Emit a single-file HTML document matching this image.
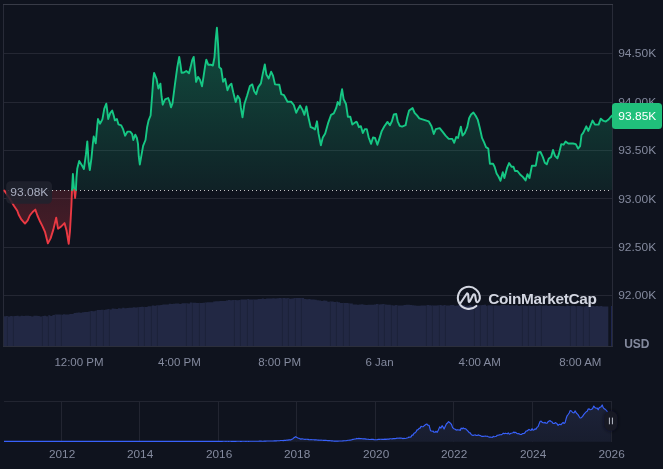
<!DOCTYPE html>
<html lang="en"><head><meta charset="utf-8"><title>Chart</title>
<style>
html,body{margin:0;padding:0;background:#0f131e;}
body{width:663px;height:469px;overflow:hidden;position:relative;font-family:"Liberation Sans",sans-serif;}
svg{position:absolute;left:0;top:0;display:block;will-change:transform}
text{font-family:"Liberation Sans",sans-serif;}
</style></head><body>
<svg width="663" height="469" viewBox="0 0 663 469">
<defs>
<linearGradient id="gg" gradientUnits="userSpaceOnUse" x1="0" y1="4" x2="0" y2="190.0">
<stop offset="0" stop-color="#16c784" stop-opacity="0.36"/><stop offset="1" stop-color="#16c784" stop-opacity="0.08"/></linearGradient>
<linearGradient id="rg" gradientUnits="userSpaceOnUse" x1="0" y1="190.0" x2="0" y2="250">
<stop offset="0" stop-color="#ea3943" stop-opacity="0.18"/><stop offset="1" stop-color="#ea3943" stop-opacity="0.28"/></linearGradient>
<linearGradient id="mg" gradientUnits="userSpaceOnUse" x1="0" y1="402" x2="0" y2="442">
<stop offset="0" stop-color="#1d233a"/><stop offset="1" stop-color="#181d2e"/></linearGradient>
<filter id="bl" x="-50%" y="-50%" width="200%" height="200%"><feGaussianBlur stdDeviation="1.6"/></filter>
</defs>
<rect width="663" height="469" fill="#0f131e"/>

<g stroke="#242733" stroke-width="1" shape-rendering="crispEdges">
<line x1="4" x2="612" y1="53.5" y2="53.5"/>
<line x1="4" x2="612" y1="102.5" y2="102.5"/>
<line x1="4" x2="612" y1="150.5" y2="150.5"/>
<line x1="4" x2="612" y1="198.5" y2="198.5"/>
<line x1="4" x2="612" y1="247.5" y2="247.5"/>
<line x1="4" x2="612" y1="295.5" y2="295.5"/>
</g>
<g shape-rendering="crispEdges" fill="none" stroke-width="1"><path d="M3.5 346.5 V4.5 M612.5 4.5 V346.5" stroke="#282b38"/><path d="M3 346.5 H613" stroke="#2c2f3c"/><path d="M3 4.5 H613" stroke="#383b47"/></g>
<path d="M3.8 346.0 L3.8 316.2 L5.9 316.2 L5.9 316.0 L8.0 316.0 L8.0 316.5 L10.1 316.5 L10.1 315.9 L12.3 315.9 L12.3 316.3 L14.4 316.3 L14.4 316.1 L16.5 316.1 L16.5 315.8 L18.6 315.8 L18.6 316.2 L20.7 316.2 L20.7 315.8 L22.8 315.8 L22.8 316.1 L25.0 316.1 L25.0 315.8 L27.1 315.8 L27.1 315.8 L29.2 315.8 L29.2 316.0 L31.3 316.0 L31.3 316.4 L33.4 316.4 L33.4 315.7 L35.5 315.7 L35.5 315.8 L37.6 315.8 L37.6 316.1 L39.8 316.1 L39.8 316.4 L41.9 316.4 L41.9 316.0 L44.0 316.0 L44.0 315.7 L46.1 315.7 L46.1 316.2 L48.2 316.2 L48.2 315.3 L50.3 315.3 L50.3 315.9 L52.4 315.9 L52.4 315.1 L54.6 315.1 L54.6 314.6 L56.7 314.6 L56.7 314.4 L58.8 314.4 L58.8 314.5 L60.9 314.5 L60.9 314.8 L63.0 314.8 L63.0 314.2 L65.1 314.2 L65.1 314.4 L67.3 314.4 L67.3 314.4 L69.4 314.4 L69.4 314.0 L71.5 314.0 L71.5 313.9 L73.6 313.9 L73.6 313.1 L75.7 313.1 L75.7 312.8 L77.8 312.8 L77.8 312.6 L79.9 312.6 L79.9 312.8 L82.1 312.8 L82.1 312.3 L84.2 312.3 L84.2 311.9 L86.3 311.9 L86.3 311.9 L88.4 311.9 L88.4 311.5 L90.5 311.5 L90.5 311.1 L92.6 311.1 L92.6 311.2 L94.7 311.2 L94.7 310.7 L96.9 310.7 L96.9 310.1 L99.0 310.1 L99.0 310.1 L101.1 310.1 L101.1 309.8 L103.2 309.8 L103.2 309.9 L105.3 309.9 L105.3 309.6 L107.4 309.6 L107.4 309.1 L109.5 309.1 L109.5 309.5 L111.7 309.5 L111.7 308.6 L113.8 308.6 L113.8 308.7 L115.9 308.7 L115.9 308.9 L118.0 308.9 L118.0 308.2 L120.1 308.2 L120.1 308.4 L122.2 308.4 L122.2 307.8 L124.4 307.8 L124.4 308.2 L126.5 308.2 L126.5 308.1 L128.6 308.1 L128.6 307.7 L130.7 307.7 L130.7 307.8 L132.8 307.8 L132.8 307.2 L134.9 307.2 L134.9 307.4 L137.0 307.4 L137.0 307.2 L139.2 307.2 L139.2 307.1 L141.3 307.1 L141.3 306.8 L143.4 306.8 L143.4 307.0 L145.5 307.0 L145.5 306.9 L147.6 306.9 L147.6 306.3 L149.7 306.3 L149.7 306.2 L151.8 306.2 L151.8 305.4 L154.0 305.4 L154.0 305.7 L156.1 305.7 L156.1 305.3 L158.2 305.3 L158.2 305.3 L160.3 305.3 L160.3 305.0 L162.4 305.0 L162.4 304.4 L164.5 304.4 L164.5 304.4 L166.7 304.4 L166.7 304.5 L168.8 304.5 L168.8 303.8 L170.9 303.8 L170.9 304.1 L173.0 304.1 L173.0 303.7 L175.1 303.7 L175.1 303.5 L177.2 303.5 L177.2 303.4 L179.3 303.4 L179.3 303.9 L181.5 303.9 L181.5 303.2 L183.6 303.2 L183.6 303.2 L185.7 303.2 L185.7 303.2 L187.8 303.2 L187.8 303.5 L189.9 303.5 L189.9 302.6 L192.0 302.6 L192.0 302.8 L194.2 302.8 L194.2 302.7 L196.3 302.7 L196.3 303.0 L198.4 303.0 L198.4 303.0 L200.5 303.0 L200.5 303.1 L202.6 303.1 L202.6 302.7 L204.7 302.7 L204.7 302.6 L206.8 302.6 L206.8 302.2 L209.0 302.2 L209.0 302.3 L211.1 302.3 L211.1 302.3 L213.2 302.3 L213.2 301.4 L215.3 301.4 L215.3 301.3 L217.4 301.3 L217.4 301.2 L219.5 301.2 L219.5 301.1 L221.6 301.1 L221.6 301.1 L223.8 301.1 L223.8 301.0 L225.9 301.0 L225.9 300.6 L228.0 300.6 L228.0 300.1 L230.1 300.1 L230.1 300.3 L232.2 300.3 L232.2 300.1 L234.3 300.1 L234.3 300.1 L236.5 300.1 L236.5 300.3 L238.6 300.3 L238.6 299.9 L240.7 299.9 L240.7 299.6 L242.8 299.6 L242.8 299.5 L244.9 299.5 L244.9 299.5 L247.0 299.5 L247.0 298.9 L249.1 298.9 L249.1 299.6 L251.3 299.6 L251.3 299.4 L253.4 299.4 L253.4 299.5 L255.5 299.5 L255.5 299.4 L257.6 299.4 L257.6 298.9 L259.7 298.9 L259.7 298.9 L261.8 298.9 L261.8 298.6 L263.9 298.6 L263.9 299.0 L266.1 299.0 L266.1 298.4 L268.2 298.4 L268.2 298.4 L270.3 298.4 L270.3 298.4 L272.4 298.4 L272.4 298.3 L274.5 298.3 L274.5 298.4 L276.6 298.4 L276.6 298.2 L278.8 298.2 L278.8 298.1 L280.9 298.1 L280.9 298.2 L283.0 298.2 L283.0 298.1 L285.1 298.1 L285.1 298.3 L287.2 298.3 L287.2 298.0 L289.3 298.0 L289.3 298.7 L291.4 298.7 L291.4 298.4 L293.6 298.4 L293.6 298.0 L295.7 298.0 L295.7 298.0 L297.8 298.0 L297.8 298.1 L299.9 298.1 L299.9 298.1 L302.0 298.1 L302.0 298.1 L304.1 298.1 L304.1 298.9 L306.2 298.9 L306.2 299.3 L308.4 299.3 L308.4 299.1 L310.5 299.1 L310.5 299.5 L312.6 299.5 L312.6 299.4 L314.7 299.4 L314.7 299.7 L316.8 299.7 L316.8 300.2 L318.9 300.2 L318.9 300.4 L321.1 300.4 L321.1 301.1 L323.2 301.1 L323.2 300.6 L325.3 300.6 L325.3 300.7 L327.4 300.7 L327.4 301.7 L329.5 301.7 L329.5 301.5 L331.6 301.5 L331.6 301.4 L333.7 301.4 L333.7 301.9 L335.9 301.9 L335.9 301.7 L338.0 301.7 L338.0 302.3 L340.1 302.3 L340.1 302.9 L342.2 302.9 L342.2 303.1 L344.3 303.1 L344.3 303.1 L346.4 303.1 L346.4 303.0 L348.5 303.0 L348.5 303.4 L350.7 303.4 L350.7 303.5 L352.8 303.5 L352.8 304.4 L354.9 304.4 L354.9 304.6 L357.0 304.6 L357.0 304.8 L359.1 304.8 L359.1 304.4 L361.2 304.4 L361.2 304.3 L363.4 304.3 L363.4 304.8 L365.5 304.8 L365.5 305.0 L367.6 305.0 L367.6 304.8 L369.7 304.8 L369.7 304.8 L371.8 304.8 L371.8 304.7 L373.9 304.7 L373.9 304.6 L376.0 304.6 L376.0 304.1 L378.2 304.1 L378.2 304.4 L380.3 304.4 L380.3 304.2 L382.4 304.2 L382.4 304.1 L384.5 304.1 L384.5 304.5 L386.6 304.5 L386.6 304.8 L388.7 304.8 L388.7 304.8 L390.8 304.8 L390.8 305.2 L393.0 305.2 L393.0 305.4 L395.1 305.4 L395.1 305.0 L397.2 305.0 L397.2 305.4 L399.3 305.4 L399.3 305.4 L401.4 305.4 L401.4 305.4 L403.5 305.4 L403.5 304.9 L405.7 304.9 L405.7 304.7 L407.8 304.7 L407.8 304.8 L409.9 304.8 L409.9 305.0 L412.0 305.0 L412.0 305.3 L414.1 305.3 L414.1 305.6 L416.2 305.6 L416.2 305.8 L418.3 305.8 L418.3 305.7 L420.5 305.7 L420.5 305.4 L422.6 305.4 L422.6 305.5 L424.7 305.5 L424.7 305.6 L426.8 305.6 L426.8 304.9 L428.9 304.9 L428.9 305.3 L431.0 305.3 L431.0 305.6 L433.1 305.6 L433.1 305.5 L435.3 305.5 L435.3 305.4 L437.4 305.4 L437.4 305.2 L439.5 305.2 L439.5 304.9 L441.6 304.9 L441.6 305.5 L443.7 305.5 L443.7 305.0 L445.8 305.0 L445.8 305.5 L448.0 305.5 L448.0 305.6 L450.1 305.6 L450.1 305.1 L452.2 305.1 L452.2 305.1 L454.3 305.1 L454.3 305.7 L456.4 305.7 L456.4 305.5 L458.5 305.5 L458.5 305.0 L460.6 305.0 L460.6 305.0 L462.8 305.0 L462.8 305.0 L464.9 305.0 L464.9 305.7 L467.0 305.7 L467.0 305.7 L469.1 305.7 L469.1 305.1 L471.2 305.1 L471.2 305.7 L473.3 305.7 L473.3 305.8 L475.4 305.8 L475.4 305.5 L477.6 305.5 L477.6 305.2 L479.7 305.2 L479.7 305.3 L481.8 305.3 L481.8 304.9 L483.9 304.9 L483.9 304.8 L486.0 304.8 L486.0 305.7 L488.1 305.7 L488.1 305.3 L490.3 305.3 L490.3 305.2 L492.4 305.2 L492.4 305.6 L494.5 305.6 L494.5 305.2 L496.6 305.2 L496.6 305.6 L498.7 305.6 L498.7 305.6 L500.8 305.6 L500.8 305.1 L502.9 305.1 L502.9 305.1 L505.1 305.1 L505.1 305.2 L507.2 305.2 L507.2 305.1 L509.3 305.1 L509.3 305.5 L511.4 305.5 L511.4 305.2 L513.5 305.2 L513.5 305.4 L515.6 305.4 L515.6 305.1 L517.7 305.1 L517.7 305.9 L519.9 305.9 L519.9 305.4 L522.0 305.4 L522.0 305.5 L524.1 305.5 L524.1 305.6 L526.2 305.6 L526.2 305.9 L528.3 305.9 L528.3 305.5 L530.4 305.5 L530.4 306.0 L532.6 306.0 L532.6 305.6 L534.7 305.6 L534.7 305.7 L536.8 305.7 L536.8 305.7 L538.9 305.7 L538.9 305.3 L541.0 305.3 L541.0 305.7 L543.1 305.7 L543.1 305.5 L545.2 305.5 L545.2 305.3 L547.4 305.3 L547.4 306.1 L549.5 306.1 L549.5 305.5 L551.6 305.5 L551.6 305.8 L553.7 305.8 L553.7 306.1 L555.8 306.1 L555.8 305.9 L557.9 305.9 L557.9 305.7 L560.0 305.7 L560.0 305.9 L562.2 305.9 L562.2 306.0 L564.3 306.0 L564.3 306.2 L566.4 306.2 L566.4 305.6 L568.5 305.6 L568.5 306.0 L570.6 306.0 L570.6 305.8 L572.7 305.8 L572.7 305.8 L574.9 305.8 L574.9 306.3 L577.0 306.3 L577.0 306.0 L579.1 306.0 L579.1 306.1 L581.2 306.1 L581.2 306.3 L583.3 306.3 L583.3 306.4 L585.4 306.4 L585.4 306.0 L587.5 306.0 L587.5 306.2 L589.7 306.2 L589.7 306.1 L591.8 306.1 L591.8 306.1 L593.9 306.1 L593.9 306.3 L596.0 306.3 L596.0 306.1 L598.1 306.1 L598.1 306.2 L600.2 306.2 L600.2 306.1 L602.3 306.1 L602.3 306.6 L604.5 306.6 L604.5 306.4 L606.6 306.4 L606.6 306.5 L608.3 306.5 L608.3 346.0 Z" fill="#222844"/>
<rect x="611" y="306.4" width="1" height="39.6" fill="#1e2650" shape-rendering="crispEdges"/>
<path d="M7.4 316.4 V346.0 M13.4 316.3 V346.0 M42.4 315.9 V346.0 M48.4 315.7 V346.0 M55.4 314.9 V346.0 M61.4 314.6 V346.0 M90.4 311.4 V346.0 M96.4 310.5 V346.0 M103.4 309.7 V346.0 M109.4 309.2 V346.0 M138.4 307.1 V346.0 M144.4 306.7 V346.0 M151.4 306.0 V346.0 M157.4 305.2 V346.0 M186.4 303.3 V346.0 M192.4 302.9 V346.0 M199.4 302.7 V346.0 M205.4 302.7 V346.0 M234.4 300.1 V346.0 M240.4 299.7 V346.0 M247.4 299.3 V346.0 M253.4 299.2 V346.0 M282.4 298.5 V346.0 M288.4 298.4 V346.0 M295.4 298.3 V346.0 M301.4 298.3 V346.0 M330.4 301.4 V346.0 M336.4 302.0 V346.0 M343.4 302.7 V346.0 M349.4 303.5 V346.0 M378.4 304.4 V346.0 M384.4 304.7 V346.0 M391.4 305.0 V346.0 M397.4 305.0 V346.0 M426.4 305.3 V346.0 M432.4 305.2 V346.0 M439.4 305.2 V346.0 M445.4 305.2 V346.0 M474.4 305.4 V346.0 M480.4 305.3 V346.0 M487.4 305.2 V346.0 M493.4 305.2 V346.0 M522.4 305.5 V346.0 M528.4 305.6 V346.0 M535.4 305.7 V346.0 M541.4 305.7 V346.0 M570.4 306.0 V346.0 M576.4 306.0 V346.0 M583.4 306.1 V346.0 M589.4 306.1 V346.0" stroke="#1b2036" stroke-width="0.7" fill="none"/>
<path d="M4.3 190.6 L6.0 193.0 L9.5 198.2 L13.9 205.8 L17.3 210.7 L18.7 214.8 L21.5 219.7 L25.0 223.6 L27.7 220.4 L29.8 215.5 L32.6 212.0 L35.3 209.6 L37.4 215.5 L40.2 221.8 L42.3 225.9 L45.1 232.2 L47.9 243.4 L50.6 238.4 L53.4 229.4 L56.2 217.6 L58.0 228.7 L61.0 226.6 L64.5 223.1 L66.6 230.8 L68.7 243.9 L70.0 230.8 L71.4 205.8 L72.0 190.0 L72.0 190.0 L4.3 190.0 Z" fill="url(#rg)"/>
<path d="M74.2 190.0 L75.1 198.0 L75.9 190.0 L75.9 190.0 L74.2 190.0 Z" fill="url(#rg)"/>
<path d="M72.0 190.0 L72.9 174.0 L74.2 190.0 L74.2 190.0 L72.0 190.0 Z" fill="url(#gg)"/>
<path d="M75.9 190.0 L76.5 177.3 L77.3 168.4 L79.2 161.0 L82.0 165.5 L83.9 169.0 L85.9 154.7 L87.3 141.4 L88.6 162.5 L89.8 170.0 L91.4 158.6 L92.9 143.0 L93.7 136.5 L95.7 143.3 L97.3 125.3 L98.0 119.0 L100.0 123.7 L102.4 119.4 L104.3 108.6 L106.3 103.7 L107.1 109.6 L108.2 119.0 L110.2 113.1 L112.2 110.6 L113.7 115.5 L114.9 120.4 L116.9 119.0 L118.4 124.3 L121.2 125.3 L123.1 129.2 L125.1 135.7 L127.5 131.6 L130.2 131.6 L132.2 134.1 L133.3 140.0 L135.3 134.7 L136.9 138.0 L138.0 143.9 L138.8 156.7 L139.8 164.5 L141.2 156.7 L143.1 145.9 L145.5 140.0 L147.1 127.3 L148.6 120.4 L150.6 115.5 L151.4 105.0 L152.2 94.5 L153.3 78.8 L154.1 72.9 L156.5 78.8 L158.4 88.6 L160.4 83.7 L161.6 96.5 L162.7 104.7 L165.1 99.4 L168.2 98.0 L169.8 102.4 L171.0 107.3 L172.5 103.3 L174.9 84.7 L177.3 67.1 L179.2 56.9 L180.4 64.1 L181.6 72.9 L183.9 72.5 L186.3 71.0 L189.0 73.3 L190.6 67.1 L192.2 60.2 L193.7 56.9 L194.9 69.0 L196.1 81.8 L198.0 76.9 L200.0 79.8 L202.0 86.3 L203.5 76.9 L205.1 66.1 L206.3 59.6 L208.2 64.7 L210.6 64.7 L212.9 65.5 L214.5 57.3 L215.7 39.6 L216.9 27.8 L218.0 43.5 L219.2 67.1 L221.2 69.0 L223.1 81.8 L225.1 78.8 L227.5 90.2 L229.4 85.7 L231.4 83.7 L233.3 92.5 L235.7 102.0 L237.7 95.8 L239.7 99.1 L240.9 107.9 L242.5 117.4 L244.4 104.0 L247.2 95.2 L249.9 86.0 L252.3 84.4 L254.2 91.3 L256.2 94.2 L258.1 87.4 L260.9 83.4 L262.8 73.6 L264.8 64.4 L266.4 74.6 L268.7 78.5 L271.1 71.7 L273.0 75.6 L275.0 84.4 L279.3 84.8 L281.3 94.2 L284.0 95.2 L287.5 101.7 L291.1 101.7 L293.8 105.0 L296.2 112.8 L298.1 108.9 L300.1 105.6 L302.5 109.9 L304.4 114.8 L306.4 106.4 L308.3 116.8 L310.7 127.2 L313.0 128.0 L315.0 129.5 L317.0 121.3 L318.5 133.4 L320.9 145.2 L322.8 137.4 L325.2 133.4 L328.3 122.6 L331.1 114.8 L333.8 113.4 L336.2 107.9 L337.7 102.0 L339.7 105.0 L340.9 95.2 L342.1 89.3 L343.6 99.1 L346.0 104.0 L347.9 116.8 L350.3 116.8 L352.3 124.6 L356.2 121.7 L357.0 122.3 L358.9 127.2 L360.9 126.2 L362.8 133.0 L364.8 129.1 L366.8 129.1 L368.7 137.5 L371.1 143.8 L373.0 137.5 L375.0 137.9 L377.4 144.8 L379.3 138.9 L381.7 131.1 L384.4 126.2 L387.5 121.9 L389.9 125.2 L391.9 121.3 L393.8 114.4 L396.2 114.0 L397.7 121.3 L399.7 125.8 L402.1 126.6 L405.6 125.2 L407.2 117.4 L409.1 110.5 L412.6 108.1 L414.6 112.8 L417.0 115.4 L419.3 118.3 L422.5 119.3 L425.6 120.3 L428.7 121.3 L431.5 126.2 L433.8 134.0 L435.8 129.1 L439.7 128.1 L442.5 131.7 L445.6 135.6 L448.7 138.9 L452.3 138.9 L454.2 142.8 L456.2 137.0 L458.1 137.9 L459.7 131.1 L460.9 126.6 L462.5 135.6 L464.8 133.0 L467.2 127.2 L469.1 118.3 L471.1 114.4 L473.4 112.5 L475.8 116.0 L477.7 119.6 L479.7 127.5 L482.1 138.2 L484.0 142.2 L486.0 147.1 L488.3 148.6 L489.9 163.7 L493.0 163.7 L494.6 166.7 L496.6 173.5 L498.5 176.5 L500.5 180.8 L502.8 172.2 L504.4 178.0 L507.2 167.6 L509.1 163.1 L511.5 166.7 L513.4 166.7 L515.0 171.0 L517.4 171.0 L520.1 174.5 L522.8 176.9 L525.6 180.4 L527.5 174.1 L529.5 178.0 L531.9 165.7 L535.8 165.7 L538.1 152.5 L540.5 152.0 L542.8 156.9 L544.8 162.7 L546.8 164.3 L548.7 158.8 L551.1 156.9 L553.0 150.0 L555.0 155.9 L557.4 158.4 L558.9 153.9 L561.3 144.1 L563.6 144.7 L565.6 141.6 L568.3 143.5 L573.0 143.5 L575.8 144.1 L578.1 148.6 L580.1 146.1 L581.5 135.0 L583.2 132.8 L586.3 126.3 L588.3 130.9 L590.5 125.5 L592.5 120.6 L594.9 124.6 L598.6 124.6 L600.8 118.7 L603.5 120.9 L605.8 121.5 L608.2 119.8 L610.2 117.5 L612.2 115.5 L612.2 190.0 L75.9 190.0 Z" fill="url(#gg)"/>
<line x1="4" x2="612" y1="190.5" y2="190.5" stroke="#c2c2c2" stroke-width="1" stroke-dasharray="1 3" shape-rendering="crispEdges"/>
<path d="M4.3 190.6 L6.0 193.0 L9.5 198.2 L13.9 205.8 L17.3 210.7 L18.7 214.8 L21.5 219.7 L25.0 223.6 L27.7 220.4 L29.8 215.5 L32.6 212.0 L35.3 209.6 L37.4 215.5 L40.2 221.8 L42.3 225.9 L45.1 232.2 L47.9 243.4 L50.6 238.4 L53.4 229.4 L56.2 217.6 L58.0 228.7 L61.0 226.6 L64.5 223.1 L66.6 230.8 L68.7 243.9 L70.0 230.8 L71.4 205.8 L72.0 190.0" stroke="#ea3943" fill="none" stroke-width="1.9" stroke-linejoin="round" stroke-linecap="round"/>
<path d="M72.0 190.0 L72.9 174.0 L74.2 190.0" stroke="#16c784" fill="none" stroke-width="1.9" stroke-linejoin="round" stroke-linecap="round"/>
<path d="M74.2 190.0 L75.1 198.0 L75.9 190.0" stroke="#ea3943" fill="none" stroke-width="1.9" stroke-linejoin="round" stroke-linecap="round"/>
<path d="M75.9 190.0 L76.5 177.3 L77.3 168.4 L79.2 161.0 L82.0 165.5 L83.9 169.0 L85.9 154.7 L87.3 141.4 L88.6 162.5 L89.8 170.0 L91.4 158.6 L92.9 143.0 L93.7 136.5 L95.7 143.3 L97.3 125.3 L98.0 119.0 L100.0 123.7 L102.4 119.4 L104.3 108.6 L106.3 103.7 L107.1 109.6 L108.2 119.0 L110.2 113.1 L112.2 110.6 L113.7 115.5 L114.9 120.4 L116.9 119.0 L118.4 124.3 L121.2 125.3 L123.1 129.2 L125.1 135.7 L127.5 131.6 L130.2 131.6 L132.2 134.1 L133.3 140.0 L135.3 134.7 L136.9 138.0 L138.0 143.9 L138.8 156.7 L139.8 164.5 L141.2 156.7 L143.1 145.9 L145.5 140.0 L147.1 127.3 L148.6 120.4 L150.6 115.5 L151.4 105.0 L152.2 94.5 L153.3 78.8 L154.1 72.9 L156.5 78.8 L158.4 88.6 L160.4 83.7 L161.6 96.5 L162.7 104.7 L165.1 99.4 L168.2 98.0 L169.8 102.4 L171.0 107.3 L172.5 103.3 L174.9 84.7 L177.3 67.1 L179.2 56.9 L180.4 64.1 L181.6 72.9 L183.9 72.5 L186.3 71.0 L189.0 73.3 L190.6 67.1 L192.2 60.2 L193.7 56.9 L194.9 69.0 L196.1 81.8 L198.0 76.9 L200.0 79.8 L202.0 86.3 L203.5 76.9 L205.1 66.1 L206.3 59.6 L208.2 64.7 L210.6 64.7 L212.9 65.5 L214.5 57.3 L215.7 39.6 L216.9 27.8 L218.0 43.5 L219.2 67.1 L221.2 69.0 L223.1 81.8 L225.1 78.8 L227.5 90.2 L229.4 85.7 L231.4 83.7 L233.3 92.5 L235.7 102.0 L237.7 95.8 L239.7 99.1 L240.9 107.9 L242.5 117.4 L244.4 104.0 L247.2 95.2 L249.9 86.0 L252.3 84.4 L254.2 91.3 L256.2 94.2 L258.1 87.4 L260.9 83.4 L262.8 73.6 L264.8 64.4 L266.4 74.6 L268.7 78.5 L271.1 71.7 L273.0 75.6 L275.0 84.4 L279.3 84.8 L281.3 94.2 L284.0 95.2 L287.5 101.7 L291.1 101.7 L293.8 105.0 L296.2 112.8 L298.1 108.9 L300.1 105.6 L302.5 109.9 L304.4 114.8 L306.4 106.4 L308.3 116.8 L310.7 127.2 L313.0 128.0 L315.0 129.5 L317.0 121.3 L318.5 133.4 L320.9 145.2 L322.8 137.4 L325.2 133.4 L328.3 122.6 L331.1 114.8 L333.8 113.4 L336.2 107.9 L337.7 102.0 L339.7 105.0 L340.9 95.2 L342.1 89.3 L343.6 99.1 L346.0 104.0 L347.9 116.8 L350.3 116.8 L352.3 124.6 L356.2 121.7 L357.0 122.3 L358.9 127.2 L360.9 126.2 L362.8 133.0 L364.8 129.1 L366.8 129.1 L368.7 137.5 L371.1 143.8 L373.0 137.5 L375.0 137.9 L377.4 144.8 L379.3 138.9 L381.7 131.1 L384.4 126.2 L387.5 121.9 L389.9 125.2 L391.9 121.3 L393.8 114.4 L396.2 114.0 L397.7 121.3 L399.7 125.8 L402.1 126.6 L405.6 125.2 L407.2 117.4 L409.1 110.5 L412.6 108.1 L414.6 112.8 L417.0 115.4 L419.3 118.3 L422.5 119.3 L425.6 120.3 L428.7 121.3 L431.5 126.2 L433.8 134.0 L435.8 129.1 L439.7 128.1 L442.5 131.7 L445.6 135.6 L448.7 138.9 L452.3 138.9 L454.2 142.8 L456.2 137.0 L458.1 137.9 L459.7 131.1 L460.9 126.6 L462.5 135.6 L464.8 133.0 L467.2 127.2 L469.1 118.3 L471.1 114.4 L473.4 112.5 L475.8 116.0 L477.7 119.6 L479.7 127.5 L482.1 138.2 L484.0 142.2 L486.0 147.1 L488.3 148.6 L489.9 163.7 L493.0 163.7 L494.6 166.7 L496.6 173.5 L498.5 176.5 L500.5 180.8 L502.8 172.2 L504.4 178.0 L507.2 167.6 L509.1 163.1 L511.5 166.7 L513.4 166.7 L515.0 171.0 L517.4 171.0 L520.1 174.5 L522.8 176.9 L525.6 180.4 L527.5 174.1 L529.5 178.0 L531.9 165.7 L535.8 165.7 L538.1 152.5 L540.5 152.0 L542.8 156.9 L544.8 162.7 L546.8 164.3 L548.7 158.8 L551.1 156.9 L553.0 150.0 L555.0 155.9 L557.4 158.4 L558.9 153.9 L561.3 144.1 L563.6 144.7 L565.6 141.6 L568.3 143.5 L573.0 143.5 L575.8 144.1 L578.1 148.6 L580.1 146.1 L581.5 135.0 L583.2 132.8 L586.3 126.3 L588.3 130.9 L590.5 125.5 L592.5 120.6 L594.9 124.6 L598.6 124.6 L600.8 118.7 L603.5 120.9 L605.8 121.5 L608.2 119.8 L610.2 117.5 L612.2 115.5" stroke="#16c784" fill="none" stroke-width="1.9" stroke-linejoin="round" stroke-linecap="round"/>
<g>
<g font-size="11.5" fill="#848a9e">
<text x="618.2" y="57.40" textLength="38" lengthAdjust="spacingAndGlyphs">94.50K</text>
<text x="618.2" y="105.80" textLength="38" lengthAdjust="spacingAndGlyphs">94.00K</text>
<text x="618.2" y="154.10" textLength="38" lengthAdjust="spacingAndGlyphs">93.50K</text>
<text x="618.2" y="202.50" textLength="38" lengthAdjust="spacingAndGlyphs">93.00K</text>
<text x="618.2" y="250.80" textLength="38" lengthAdjust="spacingAndGlyphs">92.50K</text>
<text x="618.2" y="299.20" textLength="38" lengthAdjust="spacingAndGlyphs">92.00K</text>
</g>
<text x="624.2" y="347.7" font-size="12" font-weight="700" fill="#848a9e">USD</text>
<g font-size="11.5" fill="#848a9e" text-anchor="middle">
<text x="79" y="366.1">12:00 PM</text>
<text x="179.4" y="366.1">4:00 PM</text>
<text x="279.6" y="366.1">8:00 PM</text>
<text x="379.5" y="366.1">6 Jan</text>
<text x="479.7" y="366.1">4:00 AM</text>
<text x="580.3" y="366.1">8:00 AM</text>
</g>
<rect x="6.2" y="181.2" width="45.8" height="22.5" rx="4.5" fill="#20222e" fill-opacity="0.88"/>
<text x="10.3" y="195.95" font-size="11.5" fill="#a9aec0" textLength="38" lengthAdjust="spacingAndGlyphs">93.08K</text>
<rect x="612" y="103.1" width="50" height="26" rx="3.5" fill="#20c07b"/>
<text x="618.3" y="119.95" font-size="11.5" fill="#ffffff" textLength="38" lengthAdjust="spacingAndGlyphs">93.85K</text>
<g transform="translate(468.85 297.85)" fill="none" stroke="#d3d6e1" stroke-width="2.05" stroke-linecap="round" stroke-linejoin="round">
<path d="M-8.3 5.2 L-2.3 -3.8 C-1.7 -4.8 -0.8 -4.7 -0.7 -3.4 L-0.2 3.2 C-0.1 4.3 0.6 4.4 1.1 3.5 L4.2 -2.8 C4.8 -3.9 5.9 -3.9 6.2 -2.6 C6.6 -1 6.9 1.5 7.2 3 C7.6 4.6 8.9 4.8 9.7 3.4 C10.5 2.3 10.9 1.3 11 0.5 A11 11 0 1 0 7.5 8.05"/>
</g>
<text x="488.2" y="303.5" font-size="15.4" font-weight="700" fill="#d3d6e1" textLength="108.6" lengthAdjust="spacing">CoinMarketCap</text>
<g stroke="#222531" stroke-width="1" shape-rendering="crispEdges">
<path d="M4 401.5 H611.5 V442" fill="none"/>
<line x1="61.5" x2="61.5" y1="402" y2="441.5"/>
<line x1="139.5" x2="139.5" y1="402" y2="441.5"/>
<line x1="218.5" x2="218.5" y1="402" y2="441.5"/>
<line x1="296.5" x2="296.5" y1="402" y2="441.5"/>
<line x1="375.5" x2="375.5" y1="402" y2="441.5"/>
<line x1="453.5" x2="453.5" y1="402" y2="441.5"/>
<line x1="532.5" x2="532.5" y1="402" y2="441.5"/>
</g>
<path d="M4.0 441.3 L4.9 441.3 L5.8 441.3 L6.7 441.3 L7.6 441.3 L8.5 441.3 L9.4 441.3 L10.3 441.3 L11.2 441.3 L12.1 441.3 L13.0 441.3 L13.9 441.3 L14.8 441.3 L15.7 441.3 L16.6 441.3 L17.5 441.3 L18.4 441.3 L19.3 441.3 L20.2 441.3 L21.1 441.3 L22.0 441.3 L22.9 441.3 L23.8 441.3 L24.7 441.3 L25.6 441.3 L26.5 441.3 L27.4 441.3 L28.3 441.3 L29.2 441.3 L30.1 441.3 L31.0 441.3 L31.9 441.3 L32.8 441.3 L33.7 441.3 L34.6 441.3 L35.5 441.3 L36.4 441.3 L37.3 441.3 L38.2 441.3 L39.1 441.3 L40.0 441.3 L41.0 441.3 L41.9 441.3 L42.8 441.3 L43.7 441.3 L44.6 441.3 L45.5 441.3 L46.4 441.3 L47.3 441.3 L48.2 441.3 L49.1 441.3 L50.0 441.3 L50.9 441.3 L51.8 441.3 L52.7 441.3 L53.6 441.3 L54.5 441.3 L55.4 441.3 L56.3 441.3 L57.2 441.3 L58.1 441.3 L59.0 441.3 L59.9 441.3 L60.8 441.3 L61.7 441.3 L62.6 441.3 L63.5 441.3 L64.4 441.3 L65.3 441.3 L66.2 441.3 L67.1 441.3 L68.0 441.3 L68.9 441.3 L69.8 441.3 L70.7 441.3 L71.6 441.3 L72.5 441.3 L73.4 441.3 L74.3 441.3 L75.2 441.3 L76.1 441.3 L77.0 441.3 L77.9 441.3 L78.8 441.3 L79.7 441.3 L80.6 441.3 L81.5 441.3 L82.4 441.3 L83.3 441.3 L84.2 441.3 L85.1 441.3 L86.0 441.3 L86.9 441.3 L87.8 441.3 L88.7 441.3 L89.6 441.3 L90.5 441.3 L91.4 441.3 L92.3 441.3 L93.2 441.3 L94.1 441.3 L95.0 441.3 L95.9 441.3 L96.8 441.3 L97.7 441.3 L98.6 441.3 L99.5 441.3 L100.4 441.3 L101.3 441.3 L102.2 441.3 L103.1 441.3 L104.0 441.3 L104.9 441.3 L105.8 441.3 L106.7 441.3 L107.6 441.3 L108.5 441.3 L109.4 441.3 L110.3 441.3 L111.2 441.3 L112.1 441.3 L113.0 441.3 L114.0 441.3 L114.9 441.3 L115.8 441.3 L116.7 441.3 L117.6 441.3 L118.5 441.3 L119.4 441.3 L120.3 441.3 L121.2 441.3 L122.1 441.3 L123.0 441.3 L123.9 441.3 L124.8 441.3 L125.7 441.3 L126.6 441.3 L127.5 441.3 L128.4 441.3 L129.3 441.3 L130.2 441.3 L131.1 441.3 L132.0 441.3 L132.9 441.3 L133.8 441.3 L134.7 441.3 L135.6 441.3 L136.5 441.3 L137.4 441.3 L138.3 441.3 L139.2 441.3 L140.1 441.3 L141.0 441.3 L141.9 441.3 L142.8 441.3 L143.7 441.3 L144.6 441.3 L145.5 441.3 L146.4 441.3 L147.3 441.3 L148.2 441.3 L149.1 441.3 L150.0 441.3 L150.9 441.3 L151.8 441.3 L152.7 441.3 L153.6 441.3 L154.5 441.3 L155.5 441.3 L156.4 441.3 L157.3 441.3 L158.2 441.3 L159.1 441.3 L160.0 441.3 L160.9 441.3 L161.8 441.3 L162.7 441.3 L163.6 441.3 L164.5 441.3 L165.5 441.3 L166.4 441.3 L167.3 441.3 L168.2 441.3 L169.1 441.3 L170.0 441.3 L170.9 441.3 L171.8 441.3 L172.7 441.3 L173.6 441.3 L174.5 441.3 L175.5 441.3 L176.4 441.3 L177.3 441.3 L178.2 441.3 L179.1 441.3 L180.0 441.3 L180.9 441.3 L181.8 441.3 L182.7 441.3 L183.6 441.3 L184.5 441.3 L185.5 441.3 L186.4 441.3 L187.3 441.3 L188.2 441.3 L189.1 441.3 L190.0 441.3 L190.9 441.3 L191.8 441.3 L192.7 441.3 L193.6 441.3 L194.5 441.3 L195.5 441.3 L196.4 441.3 L197.3 441.3 L198.2 441.3 L199.1 441.3 L200.0 441.3 L200.9 441.3 L201.8 441.3 L202.7 441.3 L203.6 441.3 L204.5 441.3 L205.5 441.3 L206.4 441.3 L207.3 441.3 L208.2 441.3 L209.1 441.3 L210.0 441.3 L210.9 441.3 L211.8 441.3 L212.7 441.3 L213.6 441.3 L214.5 441.3 L215.5 441.3 L216.4 441.3 L217.3 441.3 L218.2 441.3 L219.1 441.3 L220.0 441.3 L220.9 441.3 L221.8 441.3 L222.7 441.3 L223.6 441.2 L224.5 441.2 L225.5 441.3 L226.4 441.3 L227.3 441.2 L228.2 441.3 L229.1 441.3 L230.0 441.2 L230.9 441.3 L231.8 441.3 L232.7 441.3 L233.6 441.3 L234.5 441.3 L235.5 441.3 L236.4 441.3 L237.3 441.2 L238.2 441.3 L239.1 441.2 L240.0 441.3 L240.9 441.3 L241.8 441.3 L242.7 441.2 L243.6 441.2 L244.5 441.2 L245.5 441.3 L246.4 441.3 L247.3 441.2 L248.2 441.3 L249.1 441.3 L250.0 441.2 L250.9 441.2 L251.9 441.2 L252.8 441.2 L253.8 441.2 L254.7 441.2 L255.6 441.2 L256.6 441.2 L257.5 441.2 L258.4 441.2 L259.4 441.1 L260.3 441.1 L261.2 441.1 L262.2 441.2 L263.1 441.2 L264.1 441.1 L265.0 441.1 L265.9 441.1 L266.8 441.0 L267.7 441.0 L268.6 441.0 L269.5 441.0 L270.5 441.0 L271.4 441.0 L272.3 441.0 L273.2 441.0 L274.1 440.9 L275.0 440.9 L275.9 440.8 L276.8 440.8 L277.7 440.7 L278.6 440.7 L279.5 440.7 L280.5 440.5 L281.4 440.5 L282.3 440.5 L283.2 440.6 L284.1 440.4 L285.0 440.3 L286.0 440.3 L287.0 440.0 L288.0 440.1 L289.0 439.9 L290.0 439.8 L291.0 439.8 L292.0 439.1 L293.0 438.7 L294.0 437.7 L295.6 436.7 L297.0 437.6 L298.0 438.1 L299.0 438.2 L300.0 438.9 L301.0 439.1 L302.0 438.8 L303.0 439.0 L304.0 439.2 L305.0 439.4 L306.0 439.2 L307.0 439.3 L308.0 439.4 L309.0 439.6 L310.0 439.7 L311.0 439.6 L312.0 439.7 L313.0 439.7 L314.0 439.8 L315.0 439.8 L316.0 439.8 L317.0 440.0 L318.0 440.1 L319.0 440.0 L320.0 440.2 L321.0 440.1 L322.0 440.2 L323.0 440.3 L324.0 440.3 L325.0 440.4 L326.0 440.4 L326.9 440.5 L327.8 440.6 L328.7 440.5 L329.6 440.6 L330.5 440.8 L331.4 440.9 L332.3 440.9 L333.2 441.0 L334.1 441.1 L335.0 441.1 L336.0 441.1 L337.0 441.0 L338.0 441.1 L339.0 441.0 L340.0 441.0 L341.0 441.0 L342.0 441.0 L343.0 440.9 L344.0 440.8 L345.0 440.7 L346.0 440.7 L347.0 440.5 L348.0 440.3 L349.0 440.2 L350.0 440.1 L351.0 440.0 L351.9 439.7 L352.9 439.4 L353.9 439.2 L354.8 439.0 L355.8 439.0 L356.7 438.4 L357.7 438.7 L358.8 438.4 L359.9 438.6 L360.9 438.5 L362.0 438.8 L363.0 438.9 L364.0 438.8 L365.0 438.9 L366.0 439.1 L367.0 439.3 L368.0 439.2 L369.0 439.4 L370.1 439.5 L371.1 439.4 L372.1 439.3 L373.1 439.4 L374.2 439.6 L375.2 439.7 L376.2 439.7 L377.1 439.7 L378.1 439.4 L379.0 439.3 L380.0 439.3 L381.0 439.2 L382.0 439.4 L383.0 439.4 L384.0 439.4 L385.0 439.1 L386.0 439.4 L387.0 439.1 L388.0 439.0 L389.0 439.1 L390.0 438.7 L391.0 438.7 L392.0 439.0 L393.0 438.6 L394.0 438.5 L395.0 438.6 L396.0 438.5 L397.0 438.1 L398.0 438.2 L399.0 438.1 L400.0 438.1 L401.0 438.0 L402.0 438.3 L403.0 438.6 L404.0 438.3 L405.0 438.5 L406.0 438.3 L407.0 438.0 L408.0 437.8 L409.0 437.0 L410.0 437.2 L411.0 436.9 L412.0 435.1 L413.0 435.1 L414.0 433.3 L415.0 432.9 L416.0 431.9 L417.1 429.9 L418.1 429.6 L419.1 428.4 L420.1 428.1 L421.1 426.3 L422.1 426.7 L423.3 426.6 L424.5 425.4 L425.7 424.6 L426.8 424.0 L428.0 425.3 L429.1 425.4 L430.5 430.6 L431.4 431.0 L432.3 431.2 L433.2 431.0 L434.1 432.3 L435.1 432.2 L436.1 431.3 L437.1 432.4 L438.4 430.0 L439.7 426.9 L440.9 428.1 L442.1 425.7 L443.1 427.1 L444.1 429.0 L445.3 426.3 L446.5 423.8 L447.5 423.0 L448.5 421.6 L449.6 422.5 L450.6 423.4 L451.6 424.7 L452.6 427.6 L453.9 428.7 L455.2 429.2 L456.2 430.1 L457.2 429.7 L458.2 430.0 L459.2 429.8 L460.2 430.4 L461.2 428.1 L462.2 428.8 L463.2 427.9 L464.2 428.7 L465.2 428.6 L466.2 429.3 L467.2 430.3 L468.2 431.4 L469.2 432.7 L470.2 432.9 L471.4 434.8 L472.6 435.3 L473.5 435.3 L474.4 435.0 L475.4 434.9 L476.3 435.5 L477.2 435.4 L478.2 434.9 L479.2 435.2 L480.2 435.6 L481.2 436.1 L482.2 436.4 L483.2 436.4 L484.2 436.3 L485.3 436.0 L486.3 436.3 L487.3 436.2 L488.3 436.8 L489.3 437.1 L490.3 437.0 L491.3 437.3 L492.3 437.4 L493.3 436.4 L494.3 436.7 L495.3 436.5 L496.3 436.2 L497.3 435.3 L498.3 435.2 L499.3 434.9 L500.3 434.7 L501.3 434.8 L502.3 434.1 L503.3 433.2 L504.3 433.7 L505.3 433.2 L506.3 433.5 L507.3 433.8 L508.3 432.9 L509.3 434.1 L510.2 433.7 L511.1 433.2 L512.1 433.0 L513.0 432.7 L513.9 432.0 L514.8 432.8 L515.7 432.3 L516.6 433.2 L517.5 433.7 L518.4 433.6 L519.4 433.9 L520.4 434.5 L521.4 434.5 L522.4 433.6 L524.0 433.5 L525.0 432.7 L526.0 431.1 L527.0 431.0 L528.0 430.2 L529.0 429.4 L530.0 430.0 L531.0 430.4 L532.0 428.7 L533.0 430.1 L534.0 429.9 L535.0 428.9 L536.0 429.2 L537.1 427.3 L538.1 426.6 L539.1 423.9 L540.1 421.6 L541.1 421.0 L542.1 422.3 L543.1 422.8 L544.1 422.9 L545.1 422.3 L546.1 423.3 L547.1 423.1 L548.1 421.7 L549.1 421.0 L550.1 420.6 L551.1 421.5 L552.1 422.1 L553.1 423.5 L554.4 423.4 L555.7 422.6 L556.9 423.6 L558.1 425.4 L559.1 424.3 L560.1 424.4 L561.1 424.7 L562.1 423.4 L563.1 422.4 L564.1 423.5 L565.1 422.6 L566.1 418.8 L567.1 415.8 L568.1 414.5 L569.2 413.0 L570.2 410.5 L571.4 411.0 L572.6 412.5 L573.9 413.0 L575.2 410.9 L576.5 413.3 L577.8 414.4 L579.0 416.3 L580.2 418.0 L581.4 417.7 L582.6 416.4 L583.9 414.4 L585.2 412.8 L586.2 411.8 L587.2 411.3 L588.2 409.1 L589.2 408.9 L590.2 409.7 L591.2 409.5 L592.5 408.8 L593.8 406.1 L594.9 407.6 L596.1 408.2 L597.2 408.1 L598.2 409.8 L599.2 407.8 L600.2 407.2 L601.2 406.8 L602.2 404.9 L603.2 407.6 L604.3 408.8 L605.5 409.6 L606.7 410.7 L608.3 413.6 L610.0 415.0 L610.8 417.0 L610.8 441.8 L4.0 441.8 Z" fill="url(#mg)"/>
<path d="M4.0 441.3 L4.9 441.3 L5.8 441.3 L6.7 441.3 L7.6 441.3 L8.5 441.3 L9.4 441.3 L10.3 441.3 L11.2 441.3 L12.1 441.3 L13.0 441.3 L13.9 441.3 L14.8 441.3 L15.7 441.3 L16.6 441.3 L17.5 441.3 L18.4 441.3 L19.3 441.3 L20.2 441.3 L21.1 441.3 L22.0 441.3 L22.9 441.3 L23.8 441.3 L24.7 441.3 L25.6 441.3 L26.5 441.3 L27.4 441.3 L28.3 441.3 L29.2 441.3 L30.1 441.3 L31.0 441.3 L31.9 441.3 L32.8 441.3 L33.7 441.3 L34.6 441.3 L35.5 441.3 L36.4 441.3 L37.3 441.3 L38.2 441.3 L39.1 441.3 L40.0 441.3 L41.0 441.3 L41.9 441.3 L42.8 441.3 L43.7 441.3 L44.6 441.3 L45.5 441.3 L46.4 441.3 L47.3 441.3 L48.2 441.3 L49.1 441.3 L50.0 441.3 L50.9 441.3 L51.8 441.3 L52.7 441.3 L53.6 441.3 L54.5 441.3 L55.4 441.3 L56.3 441.3 L57.2 441.3 L58.1 441.3 L59.0 441.3 L59.9 441.3 L60.8 441.3 L61.7 441.3 L62.6 441.3 L63.5 441.3 L64.4 441.3 L65.3 441.3 L66.2 441.3 L67.1 441.3 L68.0 441.3 L68.9 441.3 L69.8 441.3 L70.7 441.3 L71.6 441.3 L72.5 441.3 L73.4 441.3 L74.3 441.3 L75.2 441.3 L76.1 441.3 L77.0 441.3 L77.9 441.3 L78.8 441.3 L79.7 441.3 L80.6 441.3 L81.5 441.3 L82.4 441.3 L83.3 441.3 L84.2 441.3 L85.1 441.3 L86.0 441.3 L86.9 441.3 L87.8 441.3 L88.7 441.3 L89.6 441.3 L90.5 441.3 L91.4 441.3 L92.3 441.3 L93.2 441.3 L94.1 441.3 L95.0 441.3 L95.9 441.3 L96.8 441.3 L97.7 441.3 L98.6 441.3 L99.5 441.3 L100.4 441.3 L101.3 441.3 L102.2 441.3 L103.1 441.3 L104.0 441.3 L104.9 441.3 L105.8 441.3 L106.7 441.3 L107.6 441.3 L108.5 441.3 L109.4 441.3 L110.3 441.3 L111.2 441.3 L112.1 441.3 L113.0 441.3 L114.0 441.3 L114.9 441.3 L115.8 441.3 L116.7 441.3 L117.6 441.3 L118.5 441.3 L119.4 441.3 L120.3 441.3 L121.2 441.3 L122.1 441.3 L123.0 441.3 L123.9 441.3 L124.8 441.3 L125.7 441.3 L126.6 441.3 L127.5 441.3 L128.4 441.3 L129.3 441.3 L130.2 441.3 L131.1 441.3 L132.0 441.3 L132.9 441.3 L133.8 441.3 L134.7 441.3 L135.6 441.3 L136.5 441.3 L137.4 441.3 L138.3 441.3 L139.2 441.3 L140.1 441.3 L141.0 441.3 L141.9 441.3 L142.8 441.3 L143.7 441.3 L144.6 441.3 L145.5 441.3 L146.4 441.3 L147.3 441.3 L148.2 441.3 L149.1 441.3 L150.0 441.3 L150.9 441.3 L151.8 441.3 L152.7 441.3 L153.6 441.3 L154.5 441.3 L155.5 441.3 L156.4 441.3 L157.3 441.3 L158.2 441.3 L159.1 441.3 L160.0 441.3 L160.9 441.3 L161.8 441.3 L162.7 441.3 L163.6 441.3 L164.5 441.3 L165.5 441.3 L166.4 441.3 L167.3 441.3 L168.2 441.3 L169.1 441.3 L170.0 441.3 L170.9 441.3 L171.8 441.3 L172.7 441.3 L173.6 441.3 L174.5 441.3 L175.5 441.3 L176.4 441.3 L177.3 441.3 L178.2 441.3 L179.1 441.3 L180.0 441.3 L180.9 441.3 L181.8 441.3 L182.7 441.3 L183.6 441.3 L184.5 441.3 L185.5 441.3 L186.4 441.3 L187.3 441.3 L188.2 441.3 L189.1 441.3 L190.0 441.3 L190.9 441.3 L191.8 441.3 L192.7 441.3 L193.6 441.3 L194.5 441.3 L195.5 441.3 L196.4 441.3 L197.3 441.3 L198.2 441.3 L199.1 441.3 L200.0 441.3 L200.9 441.3 L201.8 441.3 L202.7 441.3 L203.6 441.3 L204.5 441.3 L205.5 441.3 L206.4 441.3 L207.3 441.3 L208.2 441.3 L209.1 441.3 L210.0 441.3 L210.9 441.3 L211.8 441.3 L212.7 441.3 L213.6 441.3 L214.5 441.3 L215.5 441.3 L216.4 441.3 L217.3 441.3 L218.2 441.3 L219.1 441.3 L220.0 441.3 L220.9 441.3 L221.8 441.3 L222.7 441.3 L223.6 441.2 L224.5 441.2 L225.5 441.3 L226.4 441.3 L227.3 441.2 L228.2 441.3 L229.1 441.3 L230.0 441.2 L230.9 441.3 L231.8 441.3 L232.7 441.3 L233.6 441.3 L234.5 441.3 L235.5 441.3 L236.4 441.3 L237.3 441.2 L238.2 441.3 L239.1 441.2 L240.0 441.3 L240.9 441.3 L241.8 441.3 L242.7 441.2 L243.6 441.2 L244.5 441.2 L245.5 441.3 L246.4 441.3 L247.3 441.2 L248.2 441.3 L249.1 441.3 L250.0 441.2 L250.9 441.2 L251.9 441.2 L252.8 441.2 L253.8 441.2 L254.7 441.2 L255.6 441.2 L256.6 441.2 L257.5 441.2 L258.4 441.2 L259.4 441.1 L260.3 441.1 L261.2 441.1 L262.2 441.2 L263.1 441.2 L264.1 441.1 L265.0 441.1 L265.9 441.1 L266.8 441.0 L267.7 441.0 L268.6 441.0 L269.5 441.0 L270.5 441.0 L271.4 441.0 L272.3 441.0 L273.2 441.0 L274.1 440.9 L275.0 440.9 L275.9 440.8 L276.8 440.8 L277.7 440.7 L278.6 440.7 L279.5 440.7 L280.5 440.5 L281.4 440.5 L282.3 440.5 L283.2 440.6 L284.1 440.4 L285.0 440.3 L286.0 440.3 L287.0 440.0 L288.0 440.1 L289.0 439.9 L290.0 439.8 L291.0 439.8 L292.0 439.1 L293.0 438.7 L294.0 437.7 L295.6 436.7 L297.0 437.6 L298.0 438.1 L299.0 438.2 L300.0 438.9 L301.0 439.1 L302.0 438.8 L303.0 439.0 L304.0 439.2 L305.0 439.4 L306.0 439.2 L307.0 439.3 L308.0 439.4 L309.0 439.6 L310.0 439.7 L311.0 439.6 L312.0 439.7 L313.0 439.7 L314.0 439.8 L315.0 439.8 L316.0 439.8 L317.0 440.0 L318.0 440.1 L319.0 440.0 L320.0 440.2 L321.0 440.1 L322.0 440.2 L323.0 440.3 L324.0 440.3 L325.0 440.4 L326.0 440.4 L326.9 440.5 L327.8 440.6 L328.7 440.5 L329.6 440.6 L330.5 440.8 L331.4 440.9 L332.3 440.9 L333.2 441.0 L334.1 441.1 L335.0 441.1 L336.0 441.1 L337.0 441.0 L338.0 441.1 L339.0 441.0 L340.0 441.0 L341.0 441.0 L342.0 441.0 L343.0 440.9 L344.0 440.8 L345.0 440.7 L346.0 440.7 L347.0 440.5 L348.0 440.3 L349.0 440.2 L350.0 440.1 L351.0 440.0 L351.9 439.7 L352.9 439.4 L353.9 439.2 L354.8 439.0 L355.8 439.0 L356.7 438.4 L357.7 438.7 L358.8 438.4 L359.9 438.6 L360.9 438.5 L362.0 438.8 L363.0 438.9 L364.0 438.8 L365.0 438.9 L366.0 439.1 L367.0 439.3 L368.0 439.2 L369.0 439.4 L370.1 439.5 L371.1 439.4 L372.1 439.3 L373.1 439.4 L374.2 439.6 L375.2 439.7 L376.2 439.7 L377.1 439.7 L378.1 439.4 L379.0 439.3 L380.0 439.3 L381.0 439.2 L382.0 439.4 L383.0 439.4 L384.0 439.4 L385.0 439.1 L386.0 439.4 L387.0 439.1 L388.0 439.0 L389.0 439.1 L390.0 438.7 L391.0 438.7 L392.0 439.0 L393.0 438.6 L394.0 438.5 L395.0 438.6 L396.0 438.5 L397.0 438.1 L398.0 438.2 L399.0 438.1 L400.0 438.1 L401.0 438.0 L402.0 438.3 L403.0 438.6 L404.0 438.3 L405.0 438.5 L406.0 438.3 L407.0 438.0 L408.0 437.8 L409.0 437.0 L410.0 437.2 L411.0 436.9 L412.0 435.1 L413.0 435.1 L414.0 433.3 L415.0 432.9 L416.0 431.9 L417.1 429.9 L418.1 429.6 L419.1 428.4 L420.1 428.1 L421.1 426.3 L422.1 426.7 L423.3 426.6 L424.5 425.4 L425.7 424.6 L426.8 424.0 L428.0 425.3 L429.1 425.4 L430.5 430.6 L431.4 431.0 L432.3 431.2 L433.2 431.0 L434.1 432.3 L435.1 432.2 L436.1 431.3 L437.1 432.4 L438.4 430.0 L439.7 426.9 L440.9 428.1 L442.1 425.7 L443.1 427.1 L444.1 429.0 L445.3 426.3 L446.5 423.8 L447.5 423.0 L448.5 421.6 L449.6 422.5 L450.6 423.4 L451.6 424.7 L452.6 427.6 L453.9 428.7 L455.2 429.2 L456.2 430.1 L457.2 429.7 L458.2 430.0 L459.2 429.8 L460.2 430.4 L461.2 428.1 L462.2 428.8 L463.2 427.9 L464.2 428.7 L465.2 428.6 L466.2 429.3 L467.2 430.3 L468.2 431.4 L469.2 432.7 L470.2 432.9 L471.4 434.8 L472.6 435.3 L473.5 435.3 L474.4 435.0 L475.4 434.9 L476.3 435.5 L477.2 435.4 L478.2 434.9 L479.2 435.2 L480.2 435.6 L481.2 436.1 L482.2 436.4 L483.2 436.4 L484.2 436.3 L485.3 436.0 L486.3 436.3 L487.3 436.2 L488.3 436.8 L489.3 437.1 L490.3 437.0 L491.3 437.3 L492.3 437.4 L493.3 436.4 L494.3 436.7 L495.3 436.5 L496.3 436.2 L497.3 435.3 L498.3 435.2 L499.3 434.9 L500.3 434.7 L501.3 434.8 L502.3 434.1 L503.3 433.2 L504.3 433.7 L505.3 433.2 L506.3 433.5 L507.3 433.8 L508.3 432.9 L509.3 434.1 L510.2 433.7 L511.1 433.2 L512.1 433.0 L513.0 432.7 L513.9 432.0 L514.8 432.8 L515.7 432.3 L516.6 433.2 L517.5 433.7 L518.4 433.6 L519.4 433.9 L520.4 434.5 L521.4 434.5 L522.4 433.6 L524.0 433.5 L525.0 432.7 L526.0 431.1 L527.0 431.0 L528.0 430.2 L529.0 429.4 L530.0 430.0 L531.0 430.4 L532.0 428.7 L533.0 430.1 L534.0 429.9 L535.0 428.9 L536.0 429.2 L537.1 427.3 L538.1 426.6 L539.1 423.9 L540.1 421.6 L541.1 421.0 L542.1 422.3 L543.1 422.8 L544.1 422.9 L545.1 422.3 L546.1 423.3 L547.1 423.1 L548.1 421.7 L549.1 421.0 L550.1 420.6 L551.1 421.5 L552.1 422.1 L553.1 423.5 L554.4 423.4 L555.7 422.6 L556.9 423.6 L558.1 425.4 L559.1 424.3 L560.1 424.4 L561.1 424.7 L562.1 423.4 L563.1 422.4 L564.1 423.5 L565.1 422.6 L566.1 418.8 L567.1 415.8 L568.1 414.5 L569.2 413.0 L570.2 410.5 L571.4 411.0 L572.6 412.5 L573.9 413.0 L575.2 410.9 L576.5 413.3 L577.8 414.4 L579.0 416.3 L580.2 418.0 L581.4 417.7 L582.6 416.4 L583.9 414.4 L585.2 412.8 L586.2 411.8 L587.2 411.3 L588.2 409.1 L589.2 408.9 L590.2 409.7 L591.2 409.5 L592.5 408.8 L593.8 406.1 L594.9 407.6 L596.1 408.2 L597.2 408.1 L598.2 409.8 L599.2 407.8 L600.2 407.2 L601.2 406.8 L602.2 404.9 L603.2 407.6 L604.3 408.8 L605.5 409.6 L606.7 410.7 L608.3 413.6 L610.0 415.0 L610.8 417.0" stroke="#3861fb" stroke-width="1.15" fill="none" stroke-linejoin="round"/>
<g font-size="11.8" fill="#848a9e" text-anchor="middle">
<text x="62.1" y="458">2012</text>
<text x="140.1" y="458">2014</text>
<text x="219.1" y="458">2016</text>
<text x="297.1" y="458">2018</text>
<text x="376.1" y="458">2020</text>
<text x="454.1" y="458">2022</text>
<text x="533.1" y="458">2024</text>
<text x="611.6" y="458">2026</text>
</g>
<rect x="602.8" y="409.4" width="16" height="23" rx="8" fill="#0a0c14" fill-opacity="0.35" filter="url(#bl)"/>
<rect x="604.3" y="410.9" width="13" height="19.9" rx="6.5" fill="#171924"/>
<path d="M609.4 417.6 V424.3 M612.4 417.6 V424.3" stroke="#cfd3e0" stroke-width="0.9"/>
</g>
</svg></body></html>
